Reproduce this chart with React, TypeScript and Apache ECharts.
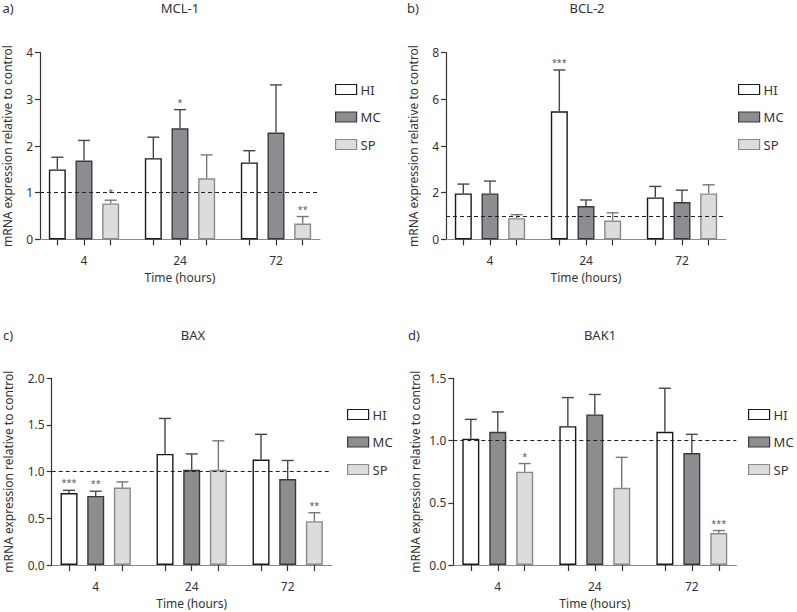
import React, { useEffect, useRef } from "react";
import * as echarts from "echarts";

// ---------- data ----------
const GROUPS = ["4", "24", "72"];
const SERIES_NAMES = ["HI", "MC", "SP"];
const Y_TITLE = "mRNA expression relative to control";
const X_TITLE = "Time (hours)";

// MCL-1
const MCL1_HI = [1.5, 1.74, 1.65];
const MCL1_MC = [1.69, 2.38, 2.29];
const MCL1_SP = [0.77, 1.31, 0.34];
const MCL1_HI_SEM = [0.26, 0.45, 0.25];
const MCL1_MC_SEM = [0.43, 0.4, 1.02];
const MCL1_SP_SEM = [0.07, 0.5, 0.15];
const MCL1_HI_SIG = ["", "", ""];
const MCL1_MC_SIG = ["", "*", ""];
const MCL1_SP_SIG = ["*", "", "**"];

// BCL-2
const BCL2_HI = [1.97, 5.49, 1.8];
const BCL2_MC = [1.97, 1.43, 1.6];
const BCL2_SP = [0.91, 0.81, 1.97];
const BCL2_HI_SEM = [0.4, 1.77, 0.47];
const BCL2_MC_SEM = [0.53, 0.26, 0.51];
const BCL2_SP_SEM = [0.15, 0.33, 0.37];
const BCL2_HI_SIG = ["", "***", ""];
const BCL2_MC_SIG = ["", "", ""];
const BCL2_SP_SIG = ["", "", ""];

// BAX
const BAX_HI = [0.77, 1.19, 1.13];
const BAX_MC = [0.74, 1.02, 0.92];
const BAX_SP = [0.83, 1.02, 0.47];
const BAX_HI_SEM = [0.03, 0.38, 0.27];
const BAX_MC_SEM = [0.05, 0.17, 0.2];
const BAX_SP_SEM = [0.06, 0.31, 0.09];
const BAX_HI_SIG = ["***", "", ""];
const BAX_MC_SIG = ["**", "", ""];
const BAX_SP_SIG = ["", "", "**"];

// BAK1
const BAK1_HI = [1.015, 1.115, 1.07];
const BAK1_MC = [1.07, 1.21, 0.9];
const BAK1_SP = [0.75, 0.62, 0.257];
const BAK1_HI_SEM = [0.155, 0.23, 0.35];
const BAK1_MC_SEM = [0.16, 0.16, 0.15];
const BAK1_SP_SEM = [0.065, 0.245, 0.02];
const BAK1_HI_SIG = ["", "", ""];
const BAK1_MC_SIG = ["", "", ""];
const BAK1_SP_SIG = ["*", "", "***"];

const REFERENCE_LEVEL = 1;

// ---------- layout / style ----------
const FONT = "'Noto Sans', sans-serif";
const TEXT = "#333";
const GROUP_STEP = 3.6;
const FILL = ["#ffffff", "#8d8d91", "#dcdcdc"];
const BORDER = ["#1a1a1a", "#3a3a3a", "#8a8a8a"];
const ERR_COLOR = ["#444", "#4a4a4a", "#777"];

const PANELS = [
  {
    letter: "a)", title: "MCL-1",
    vals: [MCL1_HI, MCL1_MC, MCL1_SP], sem: [MCL1_HI_SEM, MCL1_MC_SEM, MCL1_SP_SEM], sig: [MCL1_HI_SIG, MCL1_MC_SIG, MCL1_SP_SIG],
    yMax: 4, yInt: 1, dec: 0,
    grid: { left: 40, top: 52.7, width: 280, height: 186.7 },
    letterPos: [8, 8], titlePos: [180, 8], legend: [335, 83], nameGap: 27,
  },
  {
    letter: "b)", title: "BCL-2",
    vals: [BCL2_HI, BCL2_MC, BCL2_SP], sem: [BCL2_HI_SEM, BCL2_MC_SEM, BCL2_SP_SEM], sig: [BCL2_HI_SIG, BCL2_MC_SIG, BCL2_SP_SIG],
    yMax: 8, yInt: 2, dec: 0,
    grid: { left: 446, top: 52.7, width: 280, height: 186.7 },
    letterPos: [413, 8], titlePos: [587, 8], legend: [738, 83], nameGap: 27,
  },
  {
    letter: "c)", title: "BAX",
    vals: [BAX_HI, BAX_MC, BAX_SP], sem: [BAX_HI_SEM, BAX_MC_SEM, BAX_SP_SEM], sig: [BAX_HI_SIG, BAX_MC_SIG, BAX_SP_SIG],
    yMax: 2, yInt: 0.5, dec: 1,
    grid: { left: 51.7, top: 378.3, width: 280, height: 186.7 },
    letterPos: [8, 335], titlePos: [193, 335], legend: [347, 408], nameGap: 37,
  },
  {
    letter: "d)", title: "BAK1",
    vals: [BAK1_HI, BAK1_MC, BAK1_SP], sem: [BAK1_HI_SEM, BAK1_MC_SEM, BAK1_SP_SEM], sig: [BAK1_HI_SIG, BAK1_MC_SIG, BAK1_SP_SIG],
    yMax: 1.5, yInt: 0.5, dec: 1,
    grid: { left: 453.3, top: 378.3, width: 283, height: 186.7 },
    letterPos: [414, 335], titlePos: [600, 335], legend: [748, 408], nameGap: 32,
  },
];

function xPos(g: number, s: number) {
  return g * GROUP_STEP + (s - 1);
}

function buildOption() {
  const grid: any[] = [];
  const xAxis: any[] = [];
  const yAxis: any[] = [];
  const series: any[] = [];
  const legend: any[] = [];
  const graphic: any[] = [];

  const tickVals: number[] = [];
  const labelVals: number[] = [];
  GROUPS.forEach((_, g) => {
    labelVals.push(xPos(g, 1));
    for (let s = 0; s < 3; s++) tickVals.push(xPos(g, s));
  });

  PANELS.forEach((p, pi) => {
    grid.push({ ...p.grid });
    xAxis.push({
      type: "value", gridIndex: pi, min: -1.65, max: 8.85,
      splitLine: { show: false },
      axisLine: { show: true, onZero: false, lineStyle: { color: "#8a8a8a", width: 1.2 } },
      axisTick: { show: true, length: 6, customValues: tickVals, lineStyle: { color: "#333", width: 1.2 } },
      axisLabel: {
        customValues: labelVals, margin: 15, color: TEXT, fontSize: 12, fontFamily: FONT,
        formatter: (v: number) => GROUPS[Math.round(v / GROUP_STEP)] ?? "",
      },
      name: X_TITLE, nameLocation: "middle", nameGap: 32,
      nameTextStyle: { color: TEXT, fontSize: 12, fontFamily: FONT },
    });
    yAxis.push({
      type: "value", gridIndex: pi, min: 0, max: p.yMax, interval: p.yInt,
      splitLine: { show: false },
      axisLine: { show: true, onZero: false, lineStyle: { color: "#333", width: 1.2 } },
      axisTick: { show: true, length: 5, lineStyle: { color: "#333", width: 1.2 } },
      axisLabel: {
        margin: 7, color: TEXT, fontSize: 12, fontFamily: FONT,
        formatter: (v: number) => v.toFixed(p.dec),
      },
      name: Y_TITLE, nameLocation: "middle", nameGap: p.nameGap, nameRotate: 90,
      nameTextStyle: { color: TEXT, fontSize: 12, fontFamily: FONT },
    });

    const items: any[] = [];
    SERIES_NAMES.forEach((name, s) => {
      const data = p.vals[s].map((v, g) => [xPos(g, s), v]);
      const ser: any = {
        type: "bar", name, xAxisIndex: pi, yAxisIndex: pi,
        data, barWidth: 17, barGap: "-100%", z: 2,
        itemStyle: { color: FILL[s], borderColor: BORDER[s], borderWidth: 1.4 },
      };
      if (s === 0) {
        ser.markLine = {
          silent: true, symbol: ["none", "none"], label: { show: false },
          lineStyle: { type: [4, 3], color: "#222", width: 1.1 },
          data: [{ yAxis: REFERENCE_LEVEL }],
        };
      }
      series.push(ser);
      p.vals[s].forEach((v, g) => {
        items.push({ x: xPos(g, s), mean: v, top: v + p.sem[s][g], s, sig: p.sig[s][g] });
      });
    });

    series.push({
      type: "custom", xAxisIndex: pi, yAxisIndex: pi, z: 3, silent: true,
      data: items.map((it) => [it.x, it.top]),
      renderItem: (params: any, api: any) => {
        const it = items[params.dataIndex];
        const p0 = api.coord([it.x, it.mean]);
        const p1 = api.coord([it.x, it.top]);
        const stroke = { stroke: ERR_COLOR[it.s], lineWidth: 1.4 };
        const children: any[] = [
          { type: "line", shape: { x1: p0[0], y1: p0[1], x2: p1[0], y2: p1[1] }, style: stroke },
          { type: "line", shape: { x1: p1[0] - 6, y1: p1[1], x2: p1[0] + 6, y2: p1[1] }, style: stroke },
        ];
        if (it.sig) {
          children.push({
            type: "text", x: p1[0], y: p1[1] - 3,
            style: { text: it.sig, fill: "#555", fontSize: 9, fontFamily: FONT, align: "center", verticalAlign: "bottom" },
          });
        }
        return { type: "group", children };
      },
    });

    legend.push({
      data: SERIES_NAMES.map((name, s) => ({
        name,
        itemStyle: { color: FILL[s], borderColor: BORDER[s], borderWidth: 1.2 },
      })),
      orient: "vertical", left: p.legend[0], top: p.legend[1],
      icon: "rect", itemWidth: 21, itemHeight: 10, itemGap: 14.5, selectedMode: false,
      padding: 0,
      textStyle: { color: TEXT, fontSize: 13, fontFamily: FONT, padding: [0, 0, 0, -1] },
    });

    graphic.push({
      type: "text", x: p.letterPos[0], y: p.letterPos[1],
      style: { text: p.letter, fill: TEXT, fontSize: 13, fontFamily: FONT, align: "center", verticalAlign: "middle" },
    });
    graphic.push({
      type: "text", x: p.titlePos[0], y: p.titlePos[1],
      style: { text: p.title, fill: TEXT, fontSize: 13, fontFamily: FONT, align: "center", verticalAlign: "middle" },
    });
  });

  return { animation: false, backgroundColor: "#fff", grid, xAxis, yAxis, series, legend, graphic };
}

export default function App() {
  const ref = useRef<HTMLDivElement>(null);
  useEffect(() => {
    if (!ref.current) return;
    const chart = echarts.init(ref.current, undefined, { renderer: "svg" });
    chart.setOption(buildOption() as any);
    return () => chart.dispose();
  }, []);
  return (
    <div
      ref={ref}
      style={{ position: "fixed", left: 0, top: 0, width: 797, height: 612, background: "#fff" }}
    />
  );
}
